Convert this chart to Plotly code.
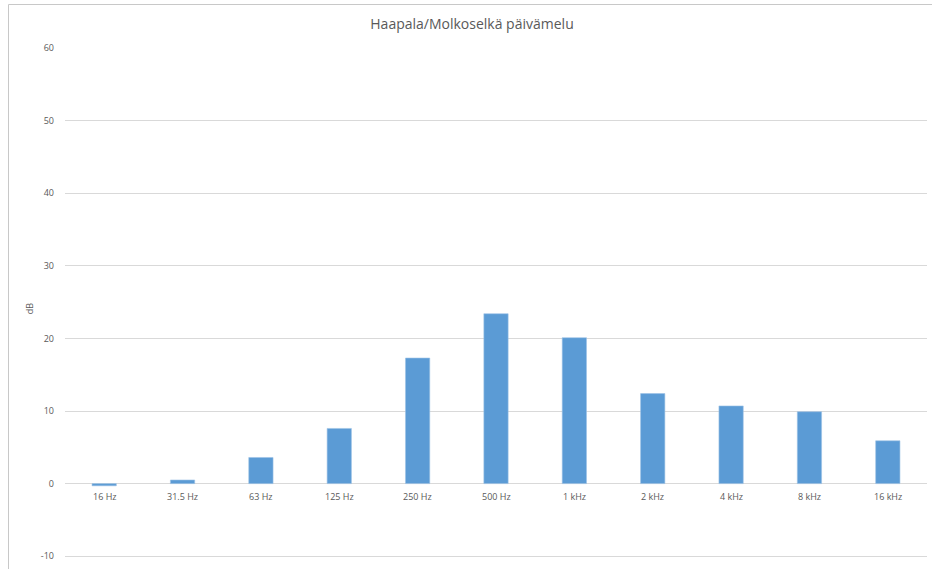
import plotly.graph_objects as go

categories = ["16 Hz", "31.5 Hz", "63 Hz", "125 Hz", "250 Hz", "500 Hz",
              "1 kHz", "2 kHz", "4 kHz", "8 kHz", "16 kHz"]
values = [-0.3, 0.5, 3.6, 7.6, 17.3, 23.4, 20.1, 12.4, 10.7, 9.9, 5.9]
y_ticks = [-10, 0, 10, 20, 30, 40, 50, 60]
y_tick_labels = ["-10", "0", "10", "20", "30", "40", "50", "60"]

W, H = 932, 569
ml, mr, mt, mb = 65, 5, 48, 0
pw, ph = W - ml - mr, H - mt - mb

fig = go.Figure(go.Bar(
    x=categories, y=values,
    marker=dict(color="#5b9bd5", line=dict(color="#9dc3e6", width=0.6)),
    width=0.31,
))

font_family = "Open Sans, Liberation Sans, sans-serif"
for c in categories:
    fig.add_annotation(x=c, y=0, xref="x", yref="y", text=c, showarrow=False,
                       yshift=-13, font=dict(size=9, color="#595959", family=font_family))

# chart frame: left edge and top edge drawn as one open path
x_left = (8.5 - ml) / pw
y_top = 1 + (mt - 4.5) / ph
fig.add_shape(type="path", xref="paper", yref="paper",
              path=f"M {x_left} -0.1 L {x_left} {y_top} L {(W - ml) / pw} {y_top}",
              line=dict(color="#c8c8c8", width=1))

fig.update_layout(
    width=W, height=H,
    margin=dict(l=ml, r=mr, t=mt, b=mb, autoexpand=False),
    paper_bgcolor="white", plot_bgcolor="white",
    showlegend=False,
    title=dict(text="Haapala/Molkoselkä päivämelu", x=472 / W, xref="container",
               xanchor="center", y=1 - 24 / H, yref="container", yanchor="middle",
               font=dict(size=14, color="#595959", family=font_family)),
    font=dict(family=font_family, color="#595959"),
    xaxis=dict(showticklabels=False, showgrid=False, zeroline=False, showline=False,
               ticks="", automargin=False),
    yaxis=dict(range=[-11.76, 60], tickvals=y_ticks, ticktext=y_tick_labels,
               showgrid=True,
               gridcolor="#d9d9d9", gridwidth=1, zeroline=True,
               zerolinecolor="#d9d9d9", zerolinewidth=1, showline=False,
               tickfont=dict(size=9, color="#595959"), ticks="",
               ticklabelstandoff=10, automargin=False,
               title=dict(text="dB", font=dict(size=9, color="#595959"), standoff=5)),
)

fig.write_html("out.html", config={"displayModeBar": False},
               post_script="document.body.style.margin='0';document.body.style.overflow='hidden';")
